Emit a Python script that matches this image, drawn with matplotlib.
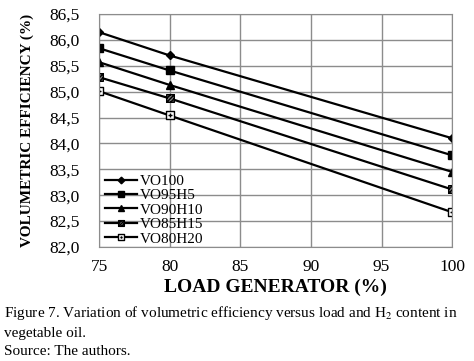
import numpy as np
import matplotlib
matplotlib.use("Agg")
import matplotlib.pyplot as plt
from matplotlib.path import Path
from matplotlib.ticker import FuncFormatter

load = [75, 80, 100]
vo100 = [86.15, 85.70, 84.10]
vo95h5 = [85.84, 85.41, 83.77]
vo90h10 = [85.57, 85.13, 83.45]
vo85h15 = [85.28, 84.87, 83.11]
vo80h20 = [85.01, 84.54, 82.67]
labels = ["VO100", "VO95H5", "VO90H10", "VO85H15", "VO80H20"]

plt.rcParams['font.family'] = ['Liberation Serif', 'DejaVu Serif']
plt.rcParams['mathtext.fontset'] = 'stix'

# hatched square and square with a cross, as marker paths
hatch = Path([(-1, -1), (1, -1), (1, 1), (-1, 1), (-1, -1),
              (-1, 0), (0, 1), (-1, -1), (1, 1), (0, -1), (1, 0)],
             [1, 2, 2, 2, 79, 1, 2, 1, 2, 1, 2])
cross = Path([(-1, -1), (1, -1), (1, 1), (-1, 1), (-1, -1),
              (-0.45, 0), (0.45, 0), (0, -0.45), (0, 0.45)],
             [1, 2, 2, 2, 79, 1, 2, 1, 2])

fig = plt.figure(figsize=(4.74, 3.61), dpi=100)
ax = fig.add_axes([0.209, 0.316, 0.745, 0.645])

series = [vo100, vo95h5, vo90h10, vo85h15, vo80h20]
markers = ['D', 's', '^', hatch, cross]
sizes = [4.5, 5.5, 6, 5.5, 5.5]
faces = ['black', 'black', 'black', '0.5', 'white']
for ys, lab, m, ms, fc in zip(series, labels, markers, sizes, faces):
    ax.plot(load, ys, color='black', lw=1.6, marker=m, ms=ms,
            mfc=fc, mec='black', mew=1.0, label=lab)

ax.set_xlim(75, 100)
ax.set_ylim(82.0, 86.5)
ax.set_xticks([75, 80, 85, 90, 95, 100])
ax.set_yticks(np.arange(82.0, 86.51, 0.5))
ax.yaxis.set_major_formatter(FuncFormatter(lambda v, p: f"{v:.1f}".replace('.', ',')))
ax.grid(True, color='#8c8c8c', lw=1.0)
ax.set_axisbelow(True)
for s in ax.spines.values():
    s.set_color('#8c8c8c')
ax.tick_params(length=0, labelsize=12.5)
ax.tick_params(axis='y', pad=14)
ax.tick_params(axis='x', pad=9)

ax.set_xlabel("LOAD GENERATOR (%)", fontsize=14, fontweight='bold')
ax.xaxis.set_label_coords(0.5, -0.135)
ax.set_ylabel("VOLUMETRIC EFFICIENCY (%)", fontsize=11, fontweight='bold')
ax.yaxis.set_label_coords(-0.183, 0.5)

ax.legend(loc='lower left', bbox_to_anchor=(0.017, 0.005), frameon=False,
          fontsize=11, labelspacing=0.05, handlelength=2.1, handletextpad=0.2,
          borderpad=0, borderaxespad=0, markerscale=0.75)

fig.text(0.008, 0.133, "Figure 7. Variation of volumetric efficiency versus load and H$_2$ content in",
         fontsize=11, va='center')
fig.text(0.008, 0.077, "vegetable oil.", fontsize=11, va='center')
fig.text(0.008, 0.025, "Source: The authors.", fontsize=11, va='center')

fig.savefig("out.png", dpi=100)
